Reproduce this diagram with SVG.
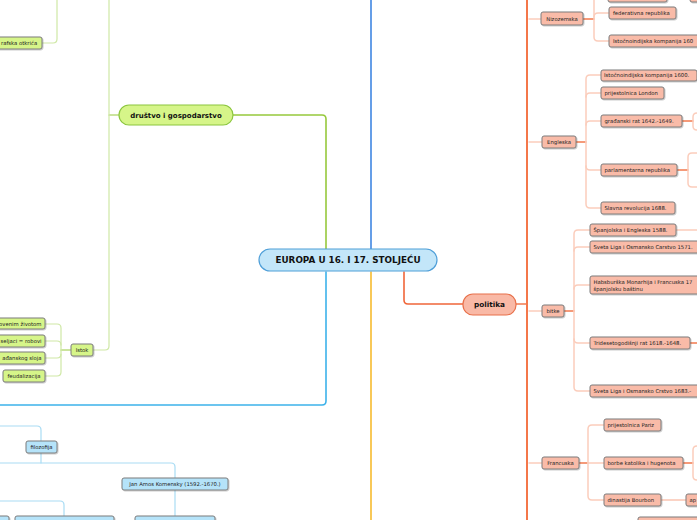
<svg xmlns="http://www.w3.org/2000/svg" width="697" height="520" viewBox="0 0 697 520">
<defs>
<filter id="sh" x="-10%" y="-20%" width="130%" height="160%">
<feDropShadow dx="0.8" dy="0.8" stdDeviation="0.5" flood-color="#000" flood-opacity="0.25"/>
</filter>
<style>
.n{stroke:#7d7d7d;stroke-width:1;filter:url(#sh)}
.o{fill:#f9bba8}
.g{fill:#d6f589}
.b{fill:#b5e3f9}
.t{font-family:"DejaVu Sans",Verdana,sans-serif;font-size:5.3px;fill:#222}
.tb{font-family:"DejaVu Sans",Verdana,sans-serif;font-weight:bold;fill:#111}
.c{fill:none;stroke-linecap:round}
.lo{stroke:#fbcdbc;stroke-width:1.5}
.do{stroke:#f27a4e;stroke-width:1.5}
.lg{stroke:#cfe8a6;stroke-width:1.2}
.dg{stroke:#98c93e;stroke-width:1.2}
.lb{stroke:#a9dcf4;stroke-width:1.2}
</style>
</defs>
<rect width="697" height="520" fill="#fff"/>
<g id="connectors">
<path class="c" d="M326,249 V119 Q326,115 322,115 H233" stroke="#97c93d" stroke-width="1.6"/>
<path class="c" d="M371,249 V0" stroke="#3f86e2" stroke-width="1.6"/>
<path class="c" d="M326,272 V401 Q326,405 322,405 H0" stroke="#3db2ea" stroke-width="1.6"/>
<path class="c" d="M371,272 V520" stroke="#f7bb2f" stroke-width="1.6"/>
<path class="c" d="M404,272 V300 Q404,304 408,304 H463" stroke="#f0663a" stroke-width="1.6"/>
<path class="c do" d="M516,304 H527"/>
<path class="c" d="M527,0 V520" stroke="#f4774a" stroke-width="2"/>
<path class="c lo" d="M529,19 H541"/>
<path class="c lo" d="M529,142 H542"/>
<path class="c lo" d="M529,311 H542"/>
<path class="c lo" d="M529,463 H542"/>
<path class="c do" d="M583,19 H594"/>
<path class="c lo" d="M594,0 V37 Q594,41 598,41 H609"/>
<path class="c lo" d="M594,17 Q594,13 598,13 H609"/>
<path class="c lo" d="M667,-4 H690"/>
<path class="c do" d="M576,142 H586"/>
<path class="c lo" d="M586,142 V79 Q586,75 590,75 H601"/>
<path class="c lo" d="M586,97 Q586,93 590,93 H601"/>
<path class="c lo" d="M586,125 Q586,121 590,121 H601"/>
<path class="c lo" d="M586,142 V204 Q586,208 590,208 H601"/>
<path class="c lo" d="M586,166 Q586,170 590,170 H601"/>
<path class="c do" d="M682,121 H693"/>
<path class="c lo" d="M699,113 H697 Q693,113 693,117 V126 Q693,130 697,130 H699"/>
<path class="c do" d="M677,170 H688"/>
<path class="c lo" d="M699,153 H692 Q688,153 688,157 V183 Q688,187 692,187 H699"/>
<path class="c do" d="M564,311 H574"/>
<path class="c lo" d="M574,311 V234 Q574,230 578,230 H590"/>
<path class="c lo" d="M574,251 Q574,247 578,247 H590"/>
<path class="c lo" d="M574,289 Q574,285 578,285 H590"/>
<path class="c lo" d="M574,311 V387 Q574,391 578,391 H590"/>
<path class="c lo" d="M574,339 Q574,343 578,343 H590"/>
<path class="c lo" d="M676,230 H699"/>
<path class="c do" d="M690,343 H699"/>
<path class="c do" d="M579,463 H588"/>
<path class="c lo" d="M588,463 V429 Q588,425 592,425 H604"/>
<path class="c lo" d="M588,463 V496 Q588,500 592,500 H604"/>
<path class="c lo" d="M588,463 H604"/>
<path class="c do" d="M683,463 H693"/>
<path class="c lo" d="M699,446 H697 Q693,446 693,450 V476 Q693,480 697,480 H699"/>
<path class="c" d="M661,500 H686" stroke="#f7a88c" stroke-width="1.2"/>
<path class="c dg" d="M119,115 H109"/>
<path class="c lg" d="M109,0 V346 Q109,350 105,350 H93"/>
<path class="c lg" d="M42,43 H53 Q57,43 57,39 V0"/>
<path class="c dg" d="M71,350 H61"/>
<path class="c lg" d="M61,350 V328 Q61,324 57,324 H45"/>
<path class="c lg" d="M61,345 Q61,341 57,341 H45"/>
<path class="c lg" d="M61,354 Q61,358 57,358 H45"/>
<path class="c lg" d="M61,350 V372 Q61,376 57,376 H45"/>
<path class="c lb" d="M0,426 H37 Q41,426 41,430 V441"/>
<path class="c lb" d="M41,453 V463"/>
<path class="c lb" d="M0,463 H171 Q175,463 175,467 V478"/>
<path class="c lb" d="M175,490 V516"/>
<path class="c lb" d="M0,501 H60 Q64,501 64,505 V516"/>
</g>

<g id="central">
<rect x="259" y="249" width="178" height="22" rx="11" fill="#c3e6f9" stroke="#4f9fd8" stroke-width="1.2"/>
<text class="tb" x="348" y="263.2" font-size="8.8" text-anchor="middle">EUROPA U 16. I 17. STOLJEĆU</text>
</g>
<g id="politika">
<rect x="463" y="294" width="53" height="21" rx="10" fill="#f9b9a6" stroke="#e8704a" stroke-width="1.2"/>
<text class="tb" x="489.5" y="307.3" font-size="7.3" text-anchor="middle">politika</text>
</g>
<g id="drustvo">
<rect x="119" y="105" width="114" height="20" rx="10" fill="#d6f589" stroke="#8cc63f" stroke-width="1.2"/>
<text class="tb" x="176" y="117.7" font-size="7" text-anchor="middle">društvo i gospodarstvo</text>
</g>

<g id="nizozemska"><rect class="n o" x="541" y="12" width="42" height="13" rx="2"/><text class="t" x="562" y="20.5" text-anchor="middle">Nizozemska</text></g>
<g id="niz-top1"><rect class="n o" x="608" y="-10" width="59" height="12" rx="2"/></g>
<g id="niz-top2"><rect class="n o" x="690" y="-10" width="20" height="12" rx="2"/></g>
<g id="federativna"><rect class="n o" x="609" y="7" width="67" height="12" rx="2"/><text class="t" x="613" y="14.9">federativna republika</text></g>
<g id="istocno-niz"><rect class="n o" x="609" y="35" width="95" height="12" rx="2"/><text class="t" x="613" y="42.9">Istočnoindijska kompanija 160</text></g>

<g id="engleska"><rect class="n o" x="542" y="136" width="34" height="12" rx="2"/><text class="t" x="559" y="143.9" text-anchor="middle">Engleska</text></g>
<g id="istocno-eng"><rect class="n o" x="601" y="70" width="96" height="11" rx="2"/><text class="t" x="604" y="77.4">Istočnoindijska kompanija 1600.</text></g>
<g id="london"><rect class="n o" x="601" y="87" width="63" height="12" rx="2"/><text class="t" x="604.5" y="94.9">prijestolnica London</text></g>
<g id="gradanski"><rect class="n o" x="601" y="115" width="81" height="12" rx="2"/><text class="t" x="604.5" y="122.9">građanski rat 1642.-1649.</text></g>
<g id="parlamentarna"><rect class="n o" x="601" y="164" width="76" height="12" rx="2"/><text class="t" x="604.5" y="171.9">parlamentarna republika</text></g>
<g id="slavna"><rect class="n o" x="601" y="202" width="74" height="12" rx="2"/><text class="t" x="604.5" y="209.9">Slavna revolucija 1688.</text></g>

<g id="bitke"><rect class="n o" x="542" y="305" width="22" height="12" rx="2"/><text class="t" x="553" y="312.9" text-anchor="middle">bitke</text></g>
<g id="spanjolska"><rect class="n o" x="590" y="224" width="86" height="12" rx="2"/><text class="t" x="593.5" y="231.9">Španjolska i Engleska 1588.</text></g>
<g id="liga1571"><rect class="n o" x="590" y="241" width="112" height="12" rx="2"/><text class="t" x="593.5" y="248.9">Sveta Liga i Osmansko Carstvo 1571.</text></g>
<g id="habsburska"><rect class="n o" x="590" y="276" width="112" height="18" rx="2"/><text class="t" x="593.5" y="283.5">Habsburška Monarhija i Francuska 17</text><text class="t" x="593.5" y="290.6">španjolsku baštinu</text></g>
<g id="trideset"><rect class="n o" x="590" y="337" width="100" height="12" rx="2"/><text class="t" x="593.5" y="344.9">Tridesetogodišnji rat 1618.-1648.</text></g>
<g id="liga1683"><rect class="n o" x="590" y="385" width="112" height="12" rx="2"/><text class="t" x="593.5" y="392.9">Sveta Liga i Osmansko Crstvo 1683.-</text></g>

<g id="francuska"><rect class="n o" x="542" y="457" width="37" height="12" rx="2"/><text class="t" x="560.5" y="464.9" text-anchor="middle">Francuska</text></g>
<g id="pariz"><rect class="n o" x="604" y="419" width="57" height="12" rx="2"/><text class="t" x="607.5" y="426.9">prijestolnica Pariz</text></g>
<g id="borbe"><rect class="n o" x="604" y="457" width="79" height="12" rx="2"/><text class="t" x="607.5" y="464.9">borbe katolika i hugenota</text></g>
<g id="bourbon"><rect class="n o" x="604" y="494" width="57" height="12" rx="2"/><text class="t" x="607.5" y="501.9">dinastija Bourbon</text></g>
<g id="ap"><rect class="n o" x="686" y="494" width="20" height="12" rx="2"/><text class="t" x="689.5" y="501.9">ap</text></g>
<g id="bottom-right"><rect class="n o" x="638" y="517" width="65" height="12" rx="2"/></g>

<g id="geografska"><rect class="n g" x="-6" y="37" width="48" height="12" rx="2"/><text class="t" x="1" y="44.9">rafska otkrića</text></g>
<g id="istok"><rect class="n g" x="71" y="344" width="22" height="12" rx="2"/><text class="t" x="82" y="351.9" text-anchor="middle">Istok</text></g>
<g id="zivotom"><rect class="n g" x="-6" y="318" width="51" height="11" rx="2"/><text class="t" x="41.5" y="325.6" text-anchor="end">ovenim životom</text></g>
<g id="seljaci"><rect class="n g" x="-6" y="335" width="51" height="12" rx="2"/><text class="t" x="41.5" y="342.9" text-anchor="end">seljaci = robovi</text></g>
<g id="gradanskog"><rect class="n g" x="-6" y="352" width="51" height="12" rx="2"/><text class="t" x="41.5" y="359.9" text-anchor="end">ađanskog sloja</text></g>
<g id="feudalizacija"><rect class="n g" x="3" y="370" width="42" height="12" rx="2"/><text class="t" x="24" y="377.9" text-anchor="middle">feudalizacija</text></g>

<g id="filozofija"><rect class="n b" x="26" y="441" width="31" height="12" rx="2"/><text class="t" x="41.5" y="448.9" text-anchor="middle">filozofija</text></g>
<g id="komensky"><rect class="n b" x="122" y="478" width="106" height="12" rx="2"/><text class="t" x="175" y="485.9" text-anchor="middle" font-size="5.5">Jan Amos Komensky (1592.-1670.)</text></g>
<g id="bl1"><rect class="n b" x="135" y="516" width="80" height="12" rx="2"/></g>
<g id="bl2"><rect class="n b" x="15" y="516" width="99" height="12" rx="2"/></g>
<g id="bl3"><rect class="n b" x="-10" y="516" width="19" height="12" rx="2"/></g>
</svg>
